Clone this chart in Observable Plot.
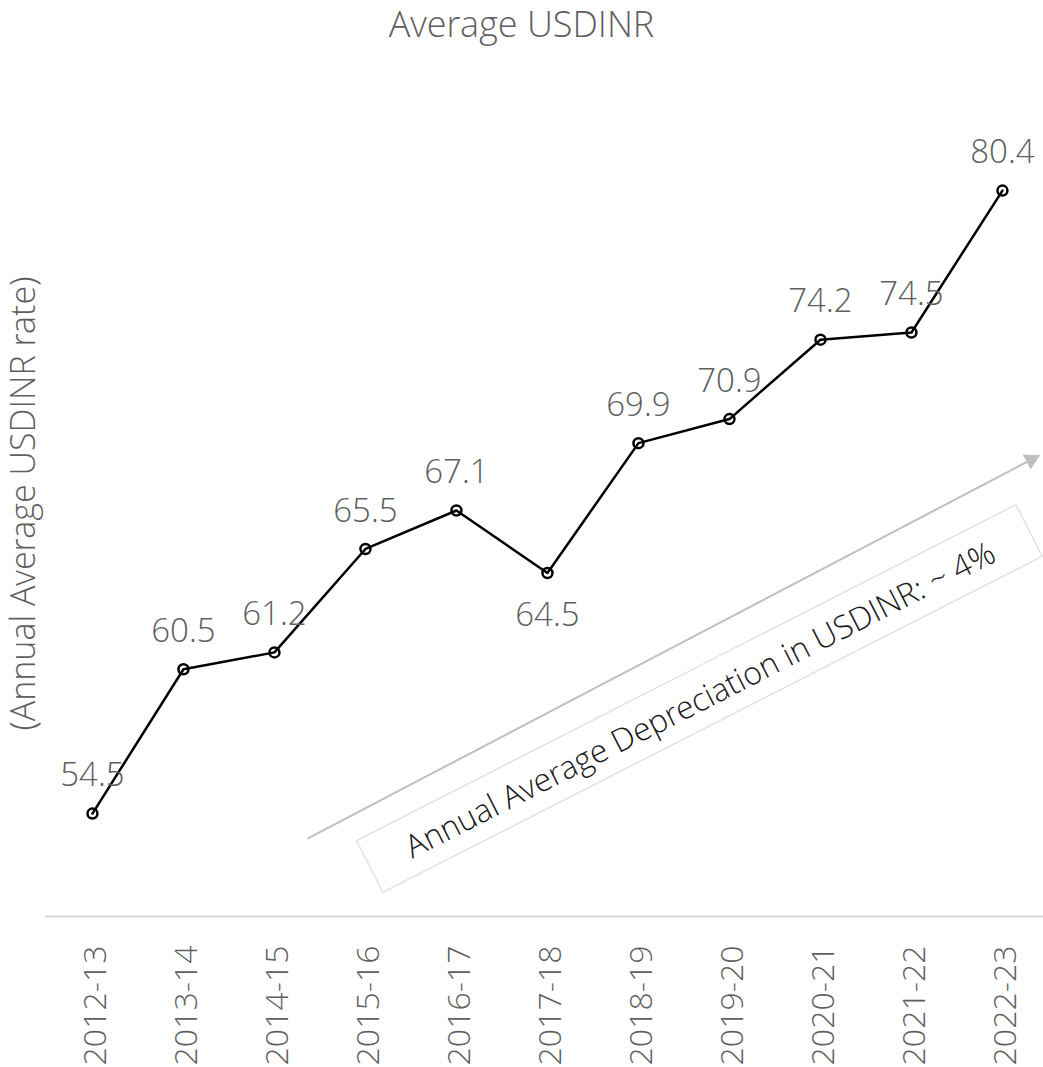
<!DOCTYPE html>
<html><head><meta charset="utf-8">
<script src="https://cdn.jsdelivr.net/npm/d3@7"></script>
<script src="https://cdn.jsdelivr.net/npm/@observablehq/plot@0.6"></script>
<style>
body{margin:0;background:#fff;font-family:"Open Sans Light","Open Sans",sans-serif;}
#title{height:50px;text-align:center;font-size:36px;font-weight:300;color:#5f5f5f;line-height:48px;white-space:nowrap;}
#chart svg{display:block;}
</style></head><body>
<div id="title">Average USDINR</div>
<div id="chart"></div>
<script>
// ---- data ----
const years = ["2012-13","2013-14","2014-15","2015-16","2016-17","2017-18","2018-19","2019-20","2020-21","2021-22","2022-23"];
const rates = [54.5,60.5,61.2,65.5,67.1,64.5,69.9,70.9,74.2,74.5,80.4];
const labelsBelow = ["2017-18"];
const yAxisLabel = "(Annual Average USDINR rate)";
const annotationText = "Annual Average Depreciation in USDINR: ~ 4%";
// trend arrow, in data units (x = year index, y = rate)
const trendArrow = [{x1: 2.363, y1: 53.46, x2: 10.407, y2: 69.39}];
const annotationPos = [{x: 6.681, y: 59.2}];
const yDomain = [50.22, 84.56];
const xDomain = [-0.516, 10.451];

const data = years.map((year, i) => ({i, year, rate: rates[i], below: labelsBelow.includes(year)}));
const idx = years.map((_, i) => i);
const arrowAngle = -27.6;
const FONT = "'Open Sans Light', 'Open Sans', sans-serif";
const GREY = "#5f5f5f";

const svg = Plot.plot({
  width: 1043,
  height: 1017,
  marginLeft: 45,
  marginRight: 0,
  marginTop: 40,
  marginBottom: 151,
  style: {fontFamily: FONT, background: "#fff"},
  x: {type: "linear", domain: xDomain},
  y: {domain: yDomain, axis: null},
  marks: [
    Plot.ruleY([yDomain[0]], {stroke: "#d9d9d9", strokeWidth: 2}),
    Plot.axisX(idx, {
      tickFormat: i => years[i], tickRotate: -90, tickSize: 0, tickPadding: 29,
      fontSize: 32, fill: GREY, fontWeight: 300, textAnchor: "end", lineAnchor: "middle", dx: 3
    }),
    Plot.text([yAxisLabel], {
      frameAnchor: "left", text: d => d, rotate: -90, dx: -21, textAnchor: "middle",
      fontSize: 34, fill: GREY, fontWeight: 300
    }),
    // trend arrow
    Plot.link(trendArrow, {x1: "x1", y1: "y1", x2: "x2", y2: "y2", stroke: "#bfbfbf", strokeWidth: 2}),
    Plot.dot(trendArrow, {
      x: "x2", y: "y2", symbol: "triangle", r: 6.3, fill: "#bfbfbf", stroke: "none",
      rotate: 90 + arrowAngle,
      dx: -9.5 * Math.cos(-arrowAngle * Math.PI / 180),
      dy: 9.5 * Math.sin(-arrowAngle * Math.PI / 180)
    }),
    Plot.text(annotationPos, {
      x: "x", y: "y", text: () => annotationText, rotate: -27,
      fontSize: 32, fill: "#1a1a1a", fontWeight: 300
    }),
    // series
    Plot.line(data, {x: "i", y: "rate", stroke: "black", strokeWidth: 2.5}),
    Plot.dot(data, {x: "i", y: "rate", r: 5, stroke: "black", strokeWidth: 2.5, fill: "none"}),
    Plot.text(data.filter(d => !d.below), {
      x: "i", y: "rate", text: d => d.rate.toFixed(1), dy: -38,
      fontSize: 33, fill: GREY, fontWeight: 300
    }),
    Plot.text(data.filter(d => d.below), {
      x: "i", y: "rate", text: d => d.rate.toFixed(1), dy: 42,
      fontSize: 33, fill: GREY, fontWeight: 300
    })
  ]
});
document.getElementById("chart").append(svg);

// box around the annotation text
const t = Array.from(svg.querySelectorAll("text")).find(el => el.textContent === annotationText);
if (t) {
  const bb = t.getBBox();
  const w = Math.max(740, bb.width + 40), h = 58;
  const cx = bb.x + bb.width / 2, cy = bb.y + bb.height / 2;
  const rect = document.createElementNS("http://www.w3.org/2000/svg", "rect");
  rect.setAttribute("x", cx - w / 2);
  rect.setAttribute("y", cy - h / 2);
  rect.setAttribute("width", w);
  rect.setAttribute("height", h);
  rect.setAttribute("fill", "none");
  rect.setAttribute("stroke", "#e3e3e3");
  rect.setAttribute("stroke-width", "1.5");
  const tr = t.getAttribute("transform");
  if (tr) rect.setAttribute("transform", tr);
  t.parentNode.insertBefore(rect, t);
}
</script>
</body></html>
